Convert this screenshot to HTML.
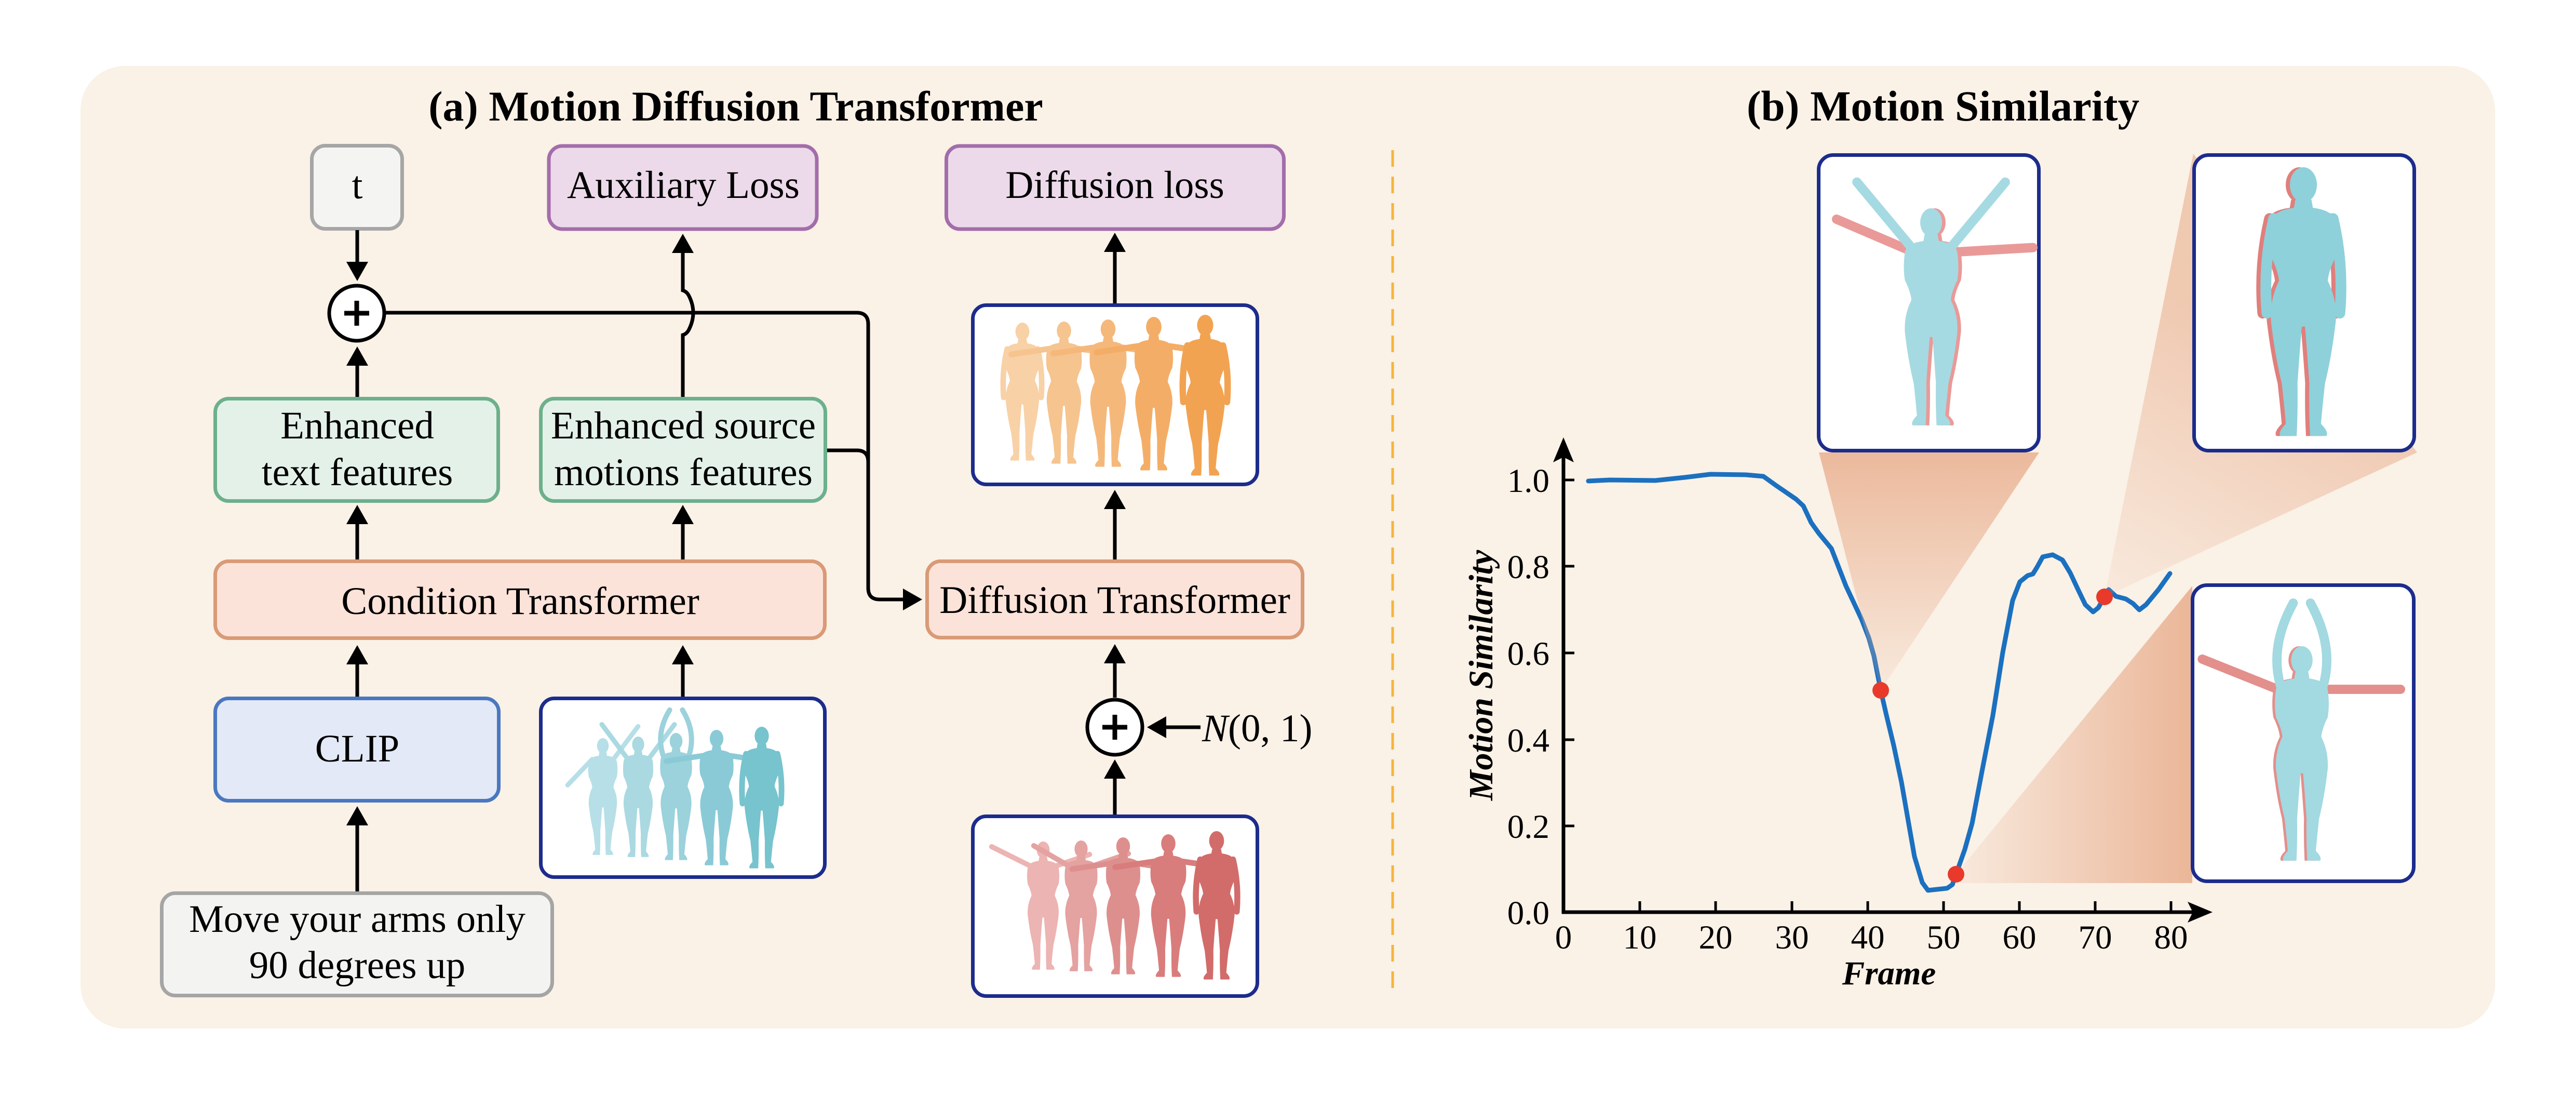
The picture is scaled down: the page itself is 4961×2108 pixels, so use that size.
<!DOCTYPE html>
<html>
<head>
<meta charset="utf-8">
<style>
html,body{margin:0;padding:0;background:#ffffff;}
svg{display:block;}
text{font-family:"Liberation Serif",serif;fill:#000;}
</style>
</head>
<body>
<svg width="4961" height="2108" viewBox="0 0 4961 2108" xmlns="http://www.w3.org/2000/svg" font-family="Liberation Serif, serif">
<defs>
<g id="bd"><ellipse cx="0" cy="6.5" rx="5" ry="6.5"/><path d="M-3,12 L3,12 L3.5,15 Q11,16 12,20 Q13,27 12,33 Q9.5,38 9,42 Q12.5,49 12,57 Q10.5,70 8,80 Q7,89 6.5,95 Q9.5,98 8.5,99.5 L2.5,99.5 Q2,90 2.2,80 Q1.2,66 0.6,59 L-0.6,59 Q-1.2,66 -2.2,80 Q-2,90 -2.5,99.5 L-8.5,99.5 Q-9.5,98 -6.5,95 Q-7,89 -8,80 Q-10.5,70 -12,57 Q-12.5,49 -9,42 Q-9.5,38 -12,33 Q-13,27 -12,20 Q-11,16 -3.5,15 Z"/></g>
<linearGradient id="g1" x1="0" y1="0" x2="0" y2="1">
<stop offset="0" stop-color="#eab394" stop-opacity="0.9"/>
<stop offset="1" stop-color="#eab394" stop-opacity="0.12"/>
</linearGradient>
<linearGradient id="g2" gradientUnits="userSpaceOnUse" x1="4053" y1="1149" x2="4330" y2="650">
<stop offset="0" stop-color="#eab394" stop-opacity="0.12"/>
<stop offset="1" stop-color="#eab394" stop-opacity="0.65"/>
</linearGradient>
<linearGradient id="g3" gradientUnits="userSpaceOnUse" x1="3767" y1="0" x2="4222" y2="0">
<stop offset="0" stop-color="#eab394" stop-opacity="0.12"/>
<stop offset="1" stop-color="#eab394" stop-opacity="0.95"/>
</linearGradient>
</defs>

<!-- panel -->
<rect x="155" y="127" width="4650" height="1853" rx="85" ry="85" fill="#faf1e7"/>

<!-- titles -->
<text x="1417" y="232" font-size="82" font-weight="bold" text-anchor="middle">(a) Motion Diffusion Transformer</text>
<text x="3742" y="232" font-size="83" font-weight="bold" text-anchor="middle">(b) Motion Similarity</text>

<!-- divider -->
<line x1="2682" y1="289" x2="2682" y2="1908" stroke="#f5b43c" stroke-width="5" stroke-dasharray="32 19"/>

<!-- ===== Left panel boxes ===== -->
<g stroke-width="7">
<rect x="600.5" y="280.5" width="174" height="160" rx="26" fill="#f4f5f2" stroke="#a6a6a6"/>
<rect x="1057" y="281" width="516" height="160" rx="26" fill="#ecdaea" stroke="#a36dab"/>
<rect x="1822.5" y="281" width="650" height="160" rx="26" fill="#ecdaea" stroke="#a36dab"/>
<rect x="414.5" y="767.5" width="545" height="197" rx="26" fill="#e4f1e9" stroke="#6cb08c"/>
<rect x="1041.5" y="767.5" width="548" height="197" rx="26" fill="#e4f1e9" stroke="#6cb08c"/>
<rect x="414.5" y="1080.5" width="1174" height="148" rx="26" fill="#fce3d9" stroke="#d99a77"/>
<rect x="1785.5" y="1080.5" width="723" height="147" rx="26" fill="#fce3d9" stroke="#d99a77"/>
<rect x="414.5" y="1344.5" width="546" height="197" rx="26" fill="#e3e9f6" stroke="#4a78c0"/>
<rect x="311.5" y="1719.5" width="752" height="197" rx="26" fill="#f3f4f1" stroke="#a5a5a5"/>
<rect x="1041.5" y="1344.5" width="547" height="344" rx="26" fill="#ffffff" stroke="#1c2c8c"/>
<rect x="1873.5" y="587.5" width="548" height="345" rx="26" fill="#ffffff" stroke="#1c2c8c"/>
<rect x="1873.5" y="1571.5" width="548" height="346" rx="26" fill="#ffffff" stroke="#1c2c8c"/>
</g>

<!-- box text -->
<g font-size="75" text-anchor="middle">
<text x="688" y="382">t</text>
<text x="1316" y="381">Auxiliary Loss</text>
<text x="2147" y="381">Diffusion loss</text>
<text x="688" y="844">Enhanced</text>
<text x="688" y="934">text features</text>
<text x="1316" y="844">Enhanced source</text>
<text x="1316" y="934">motions features</text>
<text x="1002" y="1182">Condition Transformer</text>
<text x="2147" y="1180">Diffusion Transformer</text>
<text x="688" y="1466">CLIP</text>
<text x="688" y="1794">Move your arms only</text>
<text x="688" y="1883">90 degrees up</text>
</g>
<text x="2315" y="1427" font-size="75"><tspan font-style="italic">N</tspan>(0, 1)</text>

<!-- figures: orange -->
<g opacity="0.95">
<g transform="translate(1969,621) scale(2.67)" fill="#f8cfa3" stroke="#f8cfa3"><use href="#bd" stroke="none"/><path d="M11,19 Q15,36 13.5,54 M-11,19 Q-15,36 -13.5,54" fill="none" stroke-width="4" stroke-linecap="round"/></g>
<g transform="translate(2049,619) scale(2.75)" fill="#f6c18a" stroke="#f6c18a"><use href="#bd" stroke="none"/><path d="M10,19 L37,23 M-10,19 L-37,23" fill="none" stroke-width="4" stroke-linecap="round"/></g>
<g transform="translate(2134,615) scale(2.85)" fill="#f5b574" stroke="#f5b574"><use href="#bd" stroke="none"/><path d="M10,19 L37,23 M-10,19 L-37,23" fill="none" stroke-width="4" stroke-linecap="round"/></g>
<g transform="translate(2222,610) scale(2.97)" fill="#f4a95e" stroke="#f4a95e"><use href="#bd" stroke="none"/><path d="M10,19 L37,23 M-10,19 L-37,23" fill="none" stroke-width="4" stroke-linecap="round"/></g>
<g transform="translate(2321,606) scale(3.11)" fill="#f29f48" stroke="#f29f48"><use href="#bd" stroke="none"/><path d="M11,19 Q15,36 13.5,54 M-11,19 Q-15,36 -13.5,54" fill="none" stroke-width="4" stroke-linecap="round"/></g>
</g>

<!-- figures: blue -->
<g opacity="0.95">
<g transform="translate(1161,1421) scale(2.26)" fill="#b4dee6" stroke="#b4dee6"><use href="#bd" stroke="none"/><path d="M9,18 L30,-10 M-9,18 L-30,40" fill="none" stroke-width="4" stroke-linecap="round"/></g>
<g transform="translate(1229,1418) scale(2.33)" fill="#a6d8e1" stroke="#a6d8e1"><use href="#bd" stroke="none"/><path d="M9,18 L30,-10 M-9,18 L-30,-10" fill="none" stroke-width="4" stroke-linecap="round"/></g>
<g transform="translate(1302,1411) scale(2.46)" fill="#96d0db" stroke="#96d0db"><use href="#bd" stroke="none"/><path d="M10,18 Q16,0 5,-18 M-10,18 Q-16,0 -5,-18" fill="none" stroke-width="4" stroke-linecap="round"/></g>
<g transform="translate(1380,1405) scale(2.62)" fill="#84c8d4" stroke="#84c8d4"><use href="#bd" stroke="none"/><path d="M10,19 L37,23 M-10,19 L-37,23" fill="none" stroke-width="4" stroke-linecap="round"/></g>
<g transform="translate(1467,1399) scale(2.74)" fill="#70c0cc" stroke="#70c0cc"><use href="#bd" stroke="none"/><path d="M11,19 Q15,36 13.5,54 M-11,19 Q-15,36 -13.5,54" fill="none" stroke-width="4" stroke-linecap="round"/></g>
</g>

<!-- figures: red -->
<g opacity="0.95">
<g transform="translate(2009,1620) scale(2.48)" fill="#ebb0ae" stroke="#ebb0ae"><use href="#bd" stroke="none"/><path d="M10,19 L36,10 M-10,19 L-40,4" fill="none" stroke-width="4" stroke-linecap="round"/></g>
<g transform="translate(2082,1618) scale(2.53)" fill="#e39e9c" stroke="#e39e9c"><use href="#bd" stroke="none"/><path d="M10,19 L36,10 M-10,19 L-36,4" fill="none" stroke-width="4" stroke-linecap="round"/></g>
<g transform="translate(2163,1612) scale(2.65)" fill="#dc8a88" stroke="#dc8a88"><use href="#bd" stroke="none"/><path d="M10,19 L37,23 M-10,19 L-37,23" fill="none" stroke-width="4" stroke-linecap="round"/></g>
<g transform="translate(2250,1606) scale(2.76)" fill="#d67775" stroke="#d67775"><use href="#bd" stroke="none"/><path d="M10,19 L37,23 M-10,19 L-37,23" fill="none" stroke-width="4" stroke-linecap="round"/></g>
<g transform="translate(2343,1600) scale(2.87)" fill="#cf6563" stroke="#cf6563"><use href="#bd" stroke="none"/><path d="M11,19 Q15,36 13.5,54 M-11,19 Q-15,36 -13.5,54" fill="none" stroke-width="4" stroke-linecap="round"/></g>
</g>

<!-- arrows / lines -->
<g stroke="#000" stroke-width="7" fill="none">
<line x1="688" y1="443" x2="688" y2="512"/>
<line x1="688" y1="764" x2="688" y2="698"/>
<line x1="688" y1="1077" x2="688" y2="1003"/>
<line x1="1315" y1="1077" x2="1315" y2="1003"/>
<line x1="688" y1="1341" x2="688" y2="1273"/>
<line x1="1315" y1="1341" x2="1315" y2="1273"/>
<line x1="688" y1="1716" x2="688" y2="1583"/>
<path d="M1315,764 V645 Q1322,643 1326,636 Q1344,602 1326,568 Q1322,561 1315,559 V482"/>
<line x1="2147" y1="584" x2="2147" y2="480"/>
<line x1="2147" y1="1077" x2="2147" y2="975"/>
<line x1="2147" y1="1343" x2="2147" y2="1271"/>
<line x1="2147" y1="1568" x2="2147" y2="1493"/>
<line x1="2312" y1="1400" x2="2240" y2="1400"/>
<path d="M743,602 H1650 Q1672,602 1672,624 V1132 Q1672,1154 1694,1154 H1745"/>
<path d="M1593,867 H1650 Q1672,867 1672,889"/>
</g>
<g fill="#000">
<polygon points="688,541 667,504 709,504"/>
<polygon points="688,667 667,704 709,704"/>
<polygon points="688,972 667,1009 709,1009"/>
<polygon points="1315,972 1294,1009 1336,1009"/>
<polygon points="688,1242 667,1279 709,1279"/>
<polygon points="1315,1242 1294,1279 1336,1279"/>
<polygon points="688,1552 667,1589 709,1589"/>
<polygon points="1315,450 1294,487 1336,487"/>
<polygon points="2147,448 2126,485 2168,485"/>
<polygon points="2147,943 2126,980 2168,980"/>
<polygon points="2147,1240 2126,1277 2168,1277"/>
<polygon points="2147,1462 2126,1499 2168,1499"/>
<polygon points="2209,1400 2246,1379 2246,1421"/>
<polygon points="1776,1154 1739,1133 1739,1175"/>
</g>

<!-- plus circles -->
<g stroke="#000">
<circle cx="687" cy="603" r="53" fill="#ffffff" stroke-width="7"/>
<line x1="663" y1="603" x2="711" y2="603" stroke-width="9"/>
<line x1="687" y1="579" x2="687" y2="627" stroke-width="9"/>
<circle cx="2147" cy="1400" r="53" fill="#ffffff" stroke-width="7"/>
<line x1="2123" y1="1400" x2="2171" y2="1400" stroke-width="9"/>
<line x1="2147" y1="1376" x2="2147" y2="1424" stroke-width="9"/>
</g>

<!-- ===== Right panel chart ===== -->
<polyline fill="none" stroke="#1b70bf" stroke-width="9" stroke-linejoin="round" stroke-linecap="round"
points="3059,926 3100,924 3188,925 3245,919 3294,913 3362,914 3396,917 3421,935 3459,961 3473,974 3488,1006 3503,1027 3527,1056 3555,1128 3585,1192 3599,1228 3609,1263 3622,1329 3633,1377 3647,1435 3662,1506 3677,1592 3687,1649 3702,1699 3713,1714 3750,1710 3760,1703 3767,1683 3784,1635 3798,1585 3817,1485 3838,1377 3857,1256 3876,1156 3890,1120 3905,1108 3915,1105 3923,1092 3934,1072 3953,1068 3972,1078 3987,1103 4002,1135 4016,1164 4031,1178 4041,1170 4053,1149 4061,1135 4075,1148 4094,1153 4108,1162 4120,1174 4133,1164 4157,1135 4179,1104"/>

<!-- shading -->
<polygon points="3503,871 3927,871 3622,1329" fill="url(#g1)"/>
<polygon points="4053,1149 4224,296 4655,871" fill="url(#g2)"/>
<polygon points="3767,1683 4222,1128 4222,1700 3775,1700" fill="url(#g3)"/>

<!-- inset boxes -->
<g stroke-width="7" stroke="#1c2c8c" fill="#ffffff">
<rect x="3502.5" y="298.5" width="424" height="569" rx="28"/>
<rect x="4225.5" y="298.5" width="424" height="569" rx="28"/>
<rect x="4222.5" y="1126.5" width="426" height="570" rx="28"/>
</g>

<!-- inset figures -->
<g transform="translate(3726,401) scale(4.2)" fill="#e99a98" stroke="#e99a98"><use href="#bd" stroke="none"/><path d="M-10,20 L-45,5 M10,20 L45,18" fill="none" stroke-width="4.3" stroke-linecap="round"/></g>
<g transform="translate(3719,401) scale(4.2)" fill="#a6dae2" stroke="#a6dae2"><use href="#bd" stroke="none"/><path d="M9,18 L34,-12 M-9,18 L-34,-12" fill="none" stroke-width="4.3" stroke-linecap="round"/></g>

<g transform="translate(4428,322) scale(5.2)" fill="#e07f7c" stroke="#e07f7c"><use href="#bd" stroke="none"/><path d="M11,19 Q15,36 13.5,54 M-11,19 Q-15,36 -13.5,54" fill="none" stroke-width="4" stroke-linecap="round"/></g>
<g transform="translate(4436,322) scale(5.2)" fill="#8ed1da" stroke="#8ed1da"><use href="#bd" stroke="none"/><path d="M11,19 Q15,36 13.5,54 M-11,19 Q-15,36 -13.5,54" fill="none" stroke-width="4" stroke-linecap="round"/></g>

<g transform="translate(4428,1244) scale(4.15)" fill="#e38f8c" stroke="#e38f8c"><use href="#bd" stroke="none"/><path d="M-10,20 L-45,6 M10,20 L47,20" fill="none" stroke-width="4.3" stroke-linecap="round"/></g>
<g transform="translate(4433,1244) scale(4.15)" fill="#a3d9e1" stroke="#a3d9e1"><use href="#bd" stroke="none"/><path d="M-10,18 Q-15,0 -4,-20 M10,18 Q15,0 4,-20" fill="none" stroke-width="4.3" stroke-linecap="round"/></g>

<!-- dots -->
<g fill="#e8392b">
<circle cx="3622" cy="1329" r="16"/>
<circle cx="3767" cy="1683" r="16"/>
<circle cx="4053" cy="1149" r="16"/>
</g>

<!-- axes -->
<g stroke="#000" fill="none">
<line x1="3011" y1="1759" x2="3011" y2="875" stroke-width="7"/>
<line x1="3008" y1="1756" x2="4225" y2="1756" stroke-width="7"/>
<g stroke-width="5">
<line x1="3011" y1="924" x2="3032" y2="924"/>
<line x1="3011" y1="1090" x2="3032" y2="1090"/>
<line x1="3011" y1="1257" x2="3032" y2="1257"/>
<line x1="3011" y1="1424" x2="3032" y2="1424"/>
<line x1="3011" y1="1590" x2="3032" y2="1590"/>
<line x1="3158" y1="1756" x2="3158" y2="1735"/>
<line x1="3304" y1="1756" x2="3304" y2="1735"/>
<line x1="3451" y1="1756" x2="3451" y2="1735"/>
<line x1="3597" y1="1756" x2="3597" y2="1735"/>
<line x1="3743" y1="1756" x2="3743" y2="1735"/>
<line x1="3889" y1="1756" x2="3889" y2="1735"/>
<line x1="4035" y1="1756" x2="4035" y2="1735"/>
<line x1="4181" y1="1756" x2="4181" y2="1735"/>
</g>
</g>
<g fill="#000">
<polygon points="3011,842 3031,890 3011,880 2991,890"/>
<polygon points="4261,1756 4213,1776 4223,1756 4213,1736"/>
</g>

<!-- tick labels -->
<g font-size="65" text-anchor="end">
<text x="2984" y="947">1.0</text>
<text x="2984" y="1113">0.8</text>
<text x="2984" y="1280">0.6</text>
<text x="2984" y="1447">0.4</text>
<text x="2984" y="1613">0.2</text>
<text x="2984" y="1779">0.0</text>
</g>
<g font-size="65" text-anchor="middle">
<text x="3011" y="1826">0</text>
<text x="3158" y="1826">10</text>
<text x="3304" y="1826">20</text>
<text x="3451" y="1826">30</text>
<text x="3597" y="1826">40</text>
<text x="3743" y="1826">50</text>
<text x="3889" y="1826">60</text>
<text x="4035" y="1826">70</text>
<text x="4181" y="1826">80</text>
</g>
<text x="3638" y="1895" font-size="65" font-weight="bold" font-style="italic" text-anchor="middle">Frame</text>
<text transform="translate(2874,1300) rotate(-90)" font-size="66" font-weight="bold" font-style="italic" text-anchor="middle">Motion Similarity</text>
</svg>
</body>
</html>
